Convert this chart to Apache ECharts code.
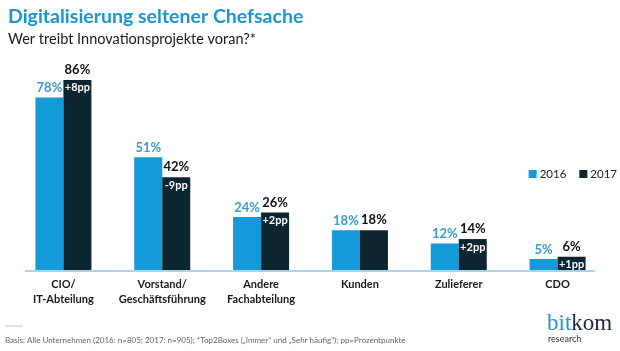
<!DOCTYPE html>
<html>
<head>
<meta charset="utf-8">
<script src="https://cdn.jsdelivr.net/npm/echarts@6/dist/echarts.min.js"></script>
<style>
  html, body { margin: 0; padding: 0; background: #fff; }
  #chart { width: 620px; height: 351px; }
</style>
</head>
<body>
<div id="chart"></div>
<script>
// data
const categories = ['CIO/\nIT-Abteilung', 'Vorstand/\nGeschäftsführung', 'Andere\nFachabteilung', 'Kunden', 'Zulieferer', 'CDO'];
const values2016 = [78, 51, 24, 18, 12, 5];
const values2017 = [86, 42, 26, 18, 14, 6];
const deltas = ['+8pp', '-9pp', '+2pp', '', '+2pp', '+1pp'];

const blue = '#139ad8';
const dark = '#0d2530';
const font = 'Lato, "Open Sans", sans-serif';

myChart = echarts.init(document.getElementById('chart'));

option = {
    backgroundColor: '#fff',
    animation: false,
    textStyle: { fontFamily: font },
    title: {
        text: 'Digitalisierung seltener Chefsache',
        subtext: 'Wer treibt Innovationsprojekte voran?*',
        left: 3,
        top: 2,
        itemGap: 5,
        textStyle: { color: '#1b96d2', fontSize: 19.5, fontWeight: 'bold', fontFamily: font },
        subtextStyle: { color: '#1a1a1a', fontSize: 14.5, fontFamily: font }
    },
    legend: {
        data: ['2016', '2017'],
        orient: 'horizontal',
        right: 3,
        top: 168,
        padding: 0,
        itemWidth: 8,
        itemHeight: 8,
        itemGap: 13,
        icon: 'rect',
        textStyle: { color: '#222', fontSize: 11.5, padding: [0, 0, 0, -2] }
    },
    grid: { left: 14, right: 13, top: 49, bottom: 81 },
    xAxis: {
        type: 'category',
        data: categories,
        axisLine: { show: false },
        axisTick: { show: false },
        axisLabel: {
            color: '#1a1a1a',
            fontWeight: 'bold',
            fontSize: 11,
            lineHeight: 15,
            margin: 7,
            interval: 0
        }
    },
    yAxis: { type: 'value', min: 0, max: 100, show: false, splitLine: { show: false } },
    series: [
        {
            name: '2016',
            type: 'bar',
            data: values2016,
            barWidth: 28,
            barGap: '0%',
            itemStyle: { color: blue },
            label: {
                show: true,
                position: 'top',
                distance: 3,
                color: '#3b9ccf',
                fontSize: 13,
                fontWeight: 'bold',
                formatter: '{c}%'
            }
        },
        {
            name: '2017',
            type: 'bar',
            data: values2017,
            barWidth: 28,
            barGap: '0%',
            itemStyle: { color: dark },
            label: {
                show: true,
                position: 'insideTop',
                distance: 0,
                offset: [0, -20],
                formatter: function (p) {
                    const d = deltas[p.dataIndex];
                    return '{v|' + p.value + '%}' + (d ? '\n{d|' + d + '}' : '');
                },
                rich: {
                    v: { color: '#111', fontSize: 13, fontWeight: 'bold', lineHeight: 20, fontFamily: font },
                    d: { color: '#fff', fontSize: 11, fontWeight: 'bold', lineHeight: 16, fontFamily: font }
                }
            }
        }
    ],
    graphic: [
        { type: 'line', shape: { x1: 25, y1: 271, x2: 595, y2: 271 }, style: { stroke: '#5aa6cf', lineWidth: 1 } },
        { type: 'line', shape: { x1: 5, y1: 326, x2: 23, y2: 326 }, style: { stroke: '#b8c4cc', lineWidth: 1 } },
        {
            type: 'text', left: 5, top: 336,
            style: {
                text: 'Basis: Alle Unternehmen (2016: n=805; 2017: n=905); *Top2Boxes („Immer“ und „Sehr häufig“); pp=Prozentpunkte',
                fill: '#666', fontSize: 8, fontFamily: font
            }
        },
        {
            type: 'text', left: 547, top: 312,
            style: {
                text: '{b|bit}{k|kom}',
                rich: {
                    b: { fill: '#1b96d2', fontSize: 23, fontFamily: '"Liberation Serif", serif' },
                    k: { fill: '#1a2a33', fontSize: 23, fontFamily: '"Liberation Serif", serif' }
                }
            }
        },
        {
            type: 'text', left: 548, top: 335,
            style: { text: 'research', fill: '#333', fontSize: 9, fontFamily: font }
        }
    ]
};

myChart.setOption(option);
</script>
</body>
</html>
